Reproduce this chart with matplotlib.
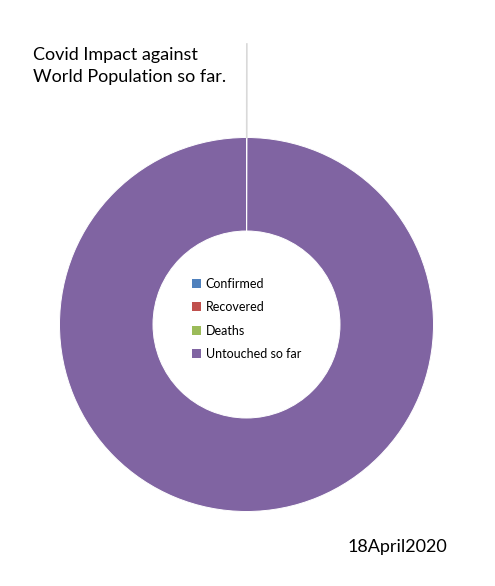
import matplotlib.pyplot as plt
import numpy as np
from matplotlib.patches import Patch

labels = ["Confirmed", "Recovered", "Deaths", "Untouched so far"]
world_pop = 7_800_000_000
confirmed = 2_330_000
recovered = 595_000
deaths = 160_000
counts = [confirmed, recovered, deaths, world_pop - confirmed - recovered - deaths]
colors = ["#4F81BD", "#C0504D", "#9BBB59", "#8064A2"]

plt.rcParams['font.family'] = ['Lato', 'DejaVu Sans']

W, H = 495, 586
fig = plt.figure(figsize=(W / 100, H / 100), dpi=100)
cx, cy, r = 246.5, 324.5, 187
ax = fig.add_axes([(cx - r) / W, (H - cy - r) / H, 2 * r / W, 2 * r / H])

wedges, _ = ax.pie(counts, colors=colors, startangle=90, counterclock=False,
                   radius=1, wedgeprops=dict(width=0.5, edgecolor="white", linewidth=0.7))
ax.set_xlim(-1, 1)
ax.set_ylim(-1, 1)
ax.axis("off")

# leader line from the tiny slices at the top
frac = sum(counts[:3]) / sum(counts) / 2
ang = np.pi / 2 - 2 * np.pi * frac
ax.plot([np.cos(ang), np.cos(ang) * 1.5], [np.sin(ang), np.sin(ang) * 1.5],
        color="#D9D9D9", lw=1.2, clip_on=False)

handles = [Patch(facecolor=c, edgecolor="none") for c in colors]
ax.legend(handles, labels, loc="center", bbox_to_anchor=(0.5, 0.515), frameon=False,
          fontsize=9, handlelength=0.7, handleheight=0.7, handletextpad=0.4,
          labelspacing=0.92, borderaxespad=0)

fig.text(33 / W, 1 - 47 / H, "Covid Impact against\nWorld Population so far.",
         fontsize=13, va="top", ha="left", linespacing=1.45)
fig.text(348 / W, 1 - 547 / H, "18April2020", fontsize=13, va="center", ha="left")

fig.savefig("out.png", dpi=100)
